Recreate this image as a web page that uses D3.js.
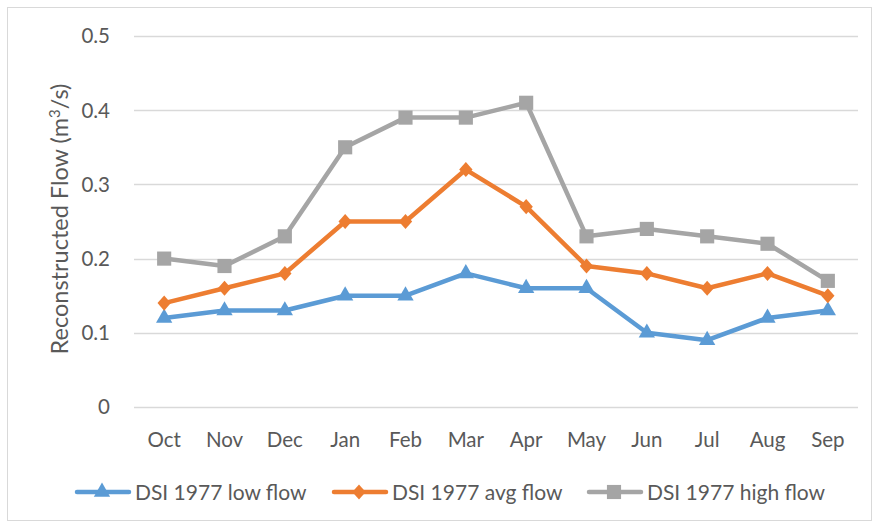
<!DOCTYPE html>
<html>
<head>
<meta charset="utf-8">
<script src="https://cdn.jsdelivr.net/npm/d3@7"></script>
<style>
  body { margin: 0; background: #fff; }
  text { font-family: Lato, "Open Sans", sans-serif; fill: #595959; }
</style>
</head>
<body>
<svg id="chart" width="878" height="527"></svg>
<script>
const months = ['Oct', 'Nov', 'Dec', 'Jan', 'Feb', 'Mar', 'Apr', 'May', 'Jun', 'Jul', 'Aug', 'Sep'];
const lowFlow = [0.12, 0.13, 0.13, 0.15, 0.15, 0.18, 0.16, 0.16, 0.10, 0.09, 0.12, 0.13];
const avgFlow = [0.14, 0.16, 0.18, 0.25, 0.25, 0.32, 0.27, 0.19, 0.18, 0.16, 0.18, 0.15];
const highFlow = [0.20, 0.19, 0.23, 0.35, 0.39, 0.39, 0.41, 0.23, 0.24, 0.23, 0.22, 0.17];
const yTicks = [0, 0.1, 0.2, 0.3, 0.4, 0.5];
const seriesNames = ['DSI 1977 low flow', 'DSI 1977 avg flow', 'DSI 1977 high flow'];

// excel style diamond, a bit wider than d3's own
const wideDiamond = {
  draw(context, size) {
    const s = Math.sqrt(size);
    const w = s * 0.46;
    const h = s * 0.52;
    context.moveTo(0, -h);
    context.lineTo(w, 0);
    context.lineTo(0, h);
    context.lineTo(-w, 0);
    context.closePath();
  },
};

const series = [
  { name: seriesNames[0], values: lowFlow, color: '#5B9BD5', symbol: d3.symbolTriangle, size: 115 },
  { name: seriesNames[1], values: avgFlow, color: '#ED7D31', symbol: wideDiamond, size: 210 },
  { name: seriesNames[2], values: highFlow, color: '#A5A5A5', symbol: d3.symbolSquare, size: 200 },
];

const svg = d3.select('#chart');

svg.append('rect')
  .attr('x', 7.5).attr('y', 7.5)
  .attr('width', 864).attr('height', 513)
  .attr('fill', '#fff')
  .attr('stroke', '#d9d9d9');

const x = d3.scaleBand().domain(months).range([134, 858]);
const y = d3.scaleLinear().domain([0, 0.5]).range([407, 36]);
const cx = (i) => x(months[i]) + x.bandwidth() / 2;

// gridlines
svg.append('g')
  .selectAll('line')
  .data(yTicks)
  .join('line')
  .attr('x1', 134).attr('x2', 858)
  .attr('y1', (d) => Math.round(y(d)) + 0.5)
  .attr('y2', (d) => Math.round(y(d)) + 0.5)
  .attr('stroke', '#d9d9d9')
  .attr('stroke-width', 1.3);

// y tick labels
svg.append('g')
  .selectAll('text')
  .data(yTicks)
  .join('text')
  .attr('x', 110)
  .attr('y', (d) => y(d))
  .attr('dy', '0.36em')
  .attr('text-anchor', 'end')
  .style('font-size', '20.5px')
  .text((d) => (d === 0 ? '0' : d3.format('.1f')(d)));

// x tick labels
svg.append('g')
  .selectAll('text')
  .data(months)
  .join('text')
  .attr('x', (d) => x(d) + x.bandwidth() / 2)
  .attr('y', 447)
  .attr('text-anchor', 'middle')
  .style('font-size', '20.5px')
  .text((d) => d);

// y axis title
const yTitle = svg.append('text')
  .attr('transform', 'translate(68,219) rotate(-90)')
  .attr('text-anchor', 'middle')
  .style('font-size', '23.5px');
yTitle.append('tspan').text('Reconstructed Flow (m');
yTitle.append('tspan').attr('dy', -8).style('font-size', '15px').text('3');
yTitle.append('tspan').attr('dy', 8).text('/s)');

const line = d3.line()
  .x((d, i) => cx(i))
  .y((d) => y(d));

series.forEach((s) => {
  const g = svg.append('g');
  g.append('path')
    .datum(s.values)
    .attr('d', line)
    .attr('fill', 'none')
    .attr('stroke', s.color)
    .attr('stroke-width', 4.5)
    .attr('stroke-linejoin', 'round');
  g.selectAll('path.marker')
    .data(s.values)
    .join('path')
    .attr('class', 'marker')
    .attr('transform', (d, i) => `translate(${cx(i)},${y(d)})`)
    .attr('d', d3.symbol().type(s.symbol).size(s.size))
    .attr('fill', s.color);
});

// legend
const legendX = [75, 332, 587];
const legend = svg.append('g');
series.forEach((s, i) => {
  const lg = legend.append('g').attr('transform', `translate(${legendX[i]},492)`);
  lg.append('line')
    .attr('x1', 2).attr('x2', 54)
    .attr('stroke', s.color)
    .attr('stroke-width', 4.5)
    .attr('stroke-linecap', 'round');
  lg.append('path')
    .attr('transform', 'translate(27,0)')
    .attr('d', d3.symbol().type(s.symbol).size(s.size))
    .attr('fill', s.color);
  lg.append('text')
    .attr('x', 60)
    .attr('dy', '0.36em')
    .style('font-size', '21px')
    .text(s.name);
});
</script>
</body>
</html>
